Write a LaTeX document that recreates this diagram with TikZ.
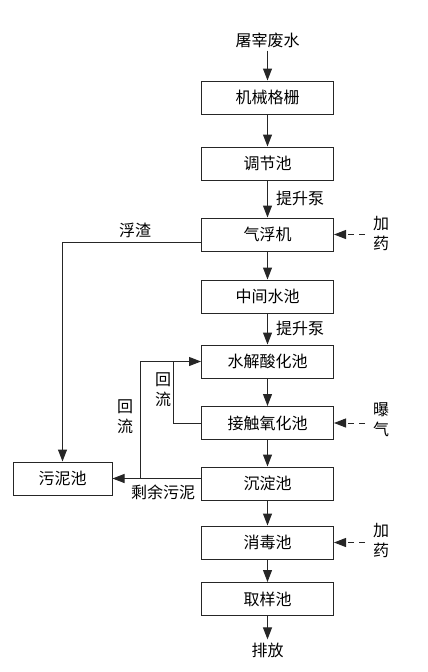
\documentclass[tikz,border=0pt]{standalone}
\usepackage{fontspec}
\setmainfont{Noto Sans CJK SC}
\usetikzlibrary{arrows.meta}

\begin{document}
\begin{tikzpicture}[x=1pt,y=-1pt,
    box/.style={draw=black!85, line width=1pt, minimum width=132pt, minimum height=33pt,
        inner sep=0pt, font=\fontsize{16}{16}\selectfont},
    lbl/.style={inner sep=3pt, align=center, font=\fontsize{16}{20}\selectfont},
    flow/.style={draw=black!85, line width=1pt, -{Triangle[length=12pt,width=9pt]}},
    dose/.style={flow, dash pattern=on 6pt off 5pt}]
    \useasboundingbox (0,0) rectangle (428,672);
    % Linha principal
    \node[lbl] (src) at (267.5,40) {屠宰废水};
    \node[box] (grid) at (267.5,97.5) {机械格栅};
    \node[box] (tank) at (267.5,163.5) {调节池};
    \node[box] (float) at (267.5,234.5) {气浮机};
    \node[box] (mid) at (267.5,296.5) {中间水池};
    \node[box] (hydro) at (267.5,361.5) {水解酸化池};
    \node[box] (contact) at (267.5,423) {接触氧化池};
    \node[box] (settle) at (267.5,483.5) {沉淀池};
    \node[box] (disinf) at (267.5,542.5) {消毒池};
    \node[box] (sample) at (267.5,599) {取样池};
    \node[lbl] (out) at (267.5,650) {排放};
    \node[box, minimum width=99pt] (sludge) at (62.5,478.5) {污泥池};
    \draw[flow] (src) -- (grid);
    \draw[flow] (grid) -- (tank);
    \draw[flow] (tank) -- (float);
    \draw[flow] (float) -- (mid);
    \draw[flow] (mid) -- (hydro);
    \draw[flow] (hydro) -- (contact);
    \draw[flow] (contact) -- (settle);
    \draw[flow] (settle) -- (disinf);
    \draw[flow] (disinf) -- (sample);
    \draw[flow] (sample) -- (out);
    \node[lbl] (pump1) at (300,198) {提升泵};
    \node[lbl] (pump2) at (300,328) {提升泵};
    % Dosagem
    \coordinate (dose1) at (365,234.5);
    \coordinate (dose2) at (365,423);
    \coordinate (dose3) at (365,542.5);
    \draw[dose] (dose1) -- (float);
    \draw[dose] (dose2) -- (contact);
    \draw[dose] (dose3) -- (disinf);
    \node[lbl] (chem1) at (381,233) {加\\药};
    \node[lbl] (air) at (381,420) {曝\\气};
    \node[lbl] (chem2) at (381,540) {加\\药};
    % Lodo
    \draw[flow] ([yshift=-7.5pt]float.west) -| (sludge.north);
    \node[lbl] (scum) at (135,230) {浮渣};
    \draw[flow] (settle.west |- sludge.east) -- (sludge.east);
    \node[lbl] (excess) at (163,492) {剩余污泥};
    % Retorno
    \coordinate (ret1) at (140,478.5);
    \coordinate (ret2) at (173,361.5);
    \draw[flow] (ret1) |- (hydro.west);
    \draw[draw=black!85, line width=1pt] (contact.west) -| (ret2);
    \node[lbl] (back1) at (125,417) {回\\流};
    \node[lbl] (back2) at (163,390) {回\\流};
\end{tikzpicture}
\end{document}
